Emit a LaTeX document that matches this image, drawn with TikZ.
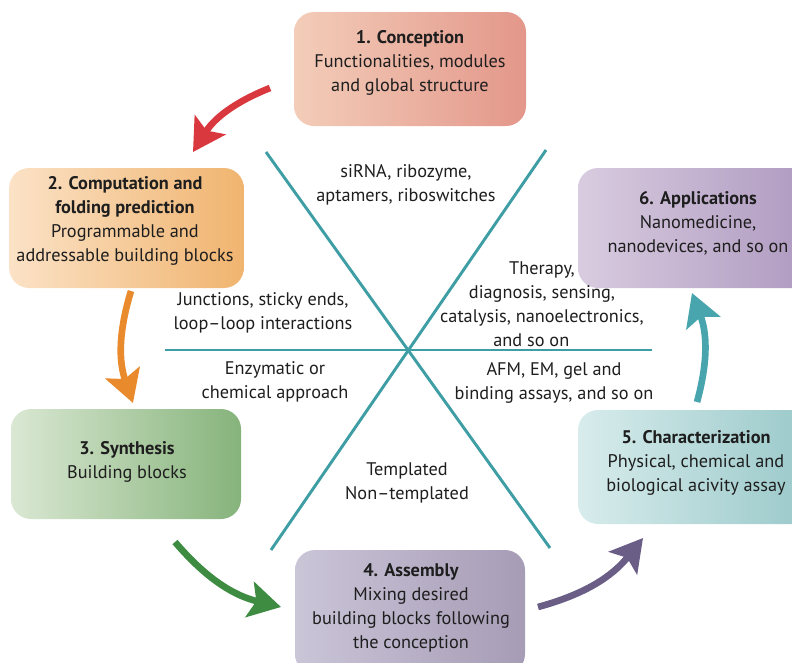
\documentclass[tikz,border=0pt]{standalone}
\usepackage{fontspec}
\setmainfont{PT Sans}
\usetikzlibrary{arrows.meta}

% spokes and text
\definecolor{spokecol}{RGB}{62,158,164}
\definecolor{inkgray}{RGB}{30,30,30}
% arrows round the cycle
\definecolor{arrred}{RGB}{216,56,62}
\definecolor{arrorange}{RGB}{233,139,45}
\definecolor{arrgreen}{RGB}{62,139,66}
\definecolor{arrpurple}{RGB}{106,94,134}
\definecolor{arrteal}{RGB}{72,165,173}

\tikzset{
  stage/.style={rounded corners=15pt, inner sep=0pt},
  stagetext/.style={align=center, text=inkgray, inner sep=0pt},
  spoke/.style={draw=spokecol, line width=2.2pt},
  note/.style={align=center, text=inkgray, inner sep=0pt},
  cycarrow/.style={line width=5pt, -{Stealth[length=24pt,width=27pt,inset=5pt]}, bend right=18},
}

\begin{document}
\begin{tikzpicture}[x=.75pt, y=-.75pt, font=\fontsize{13.7}{18}\selectfont]
  \useasboundingbox (0,0) rectangle (792,662);

  % the six stages, box first and then its text
  \node[stage, left color={rgb,255:red,243;green,205;blue,185}, right color={rgb,255:red,227;green,151;blue,138},
        minimum width=174pt, minimum height=85.5pt] (conc) at (410,69) {};
  \node[stagetext] (conct) at (410,62.5)
       {\textbf{1. Conception}\\Functionalities, modules\\and global structure};
  \node[stage, left color={rgb,255:red,251;green,226;blue,198}, right color={rgb,255:red,240;green,180;blue,111},
        minimum width=176pt, minimum height=90pt] (comp) at (126.5,228) {};
  \node[stagetext] (compt) at (125,221)
       {\textbf{2. Computation and}\\\textbf{folding prediction}\\Programmable and\\addressable building blocks};
  \node[stage, left color={rgb,255:red,218;green,232;blue,211}, right color={rgb,255:red,134;green,179;blue,123},
        minimum width=172.5pt, minimum height=82.5pt] (synt) at (126,464) {};
  \node[stagetext] (syntt) at (127,461.5)
       {\textbf{3. Synthesis}\\Building blocks};
  \node[stage, left color={rgb,255:red,203;green,197;blue,216}, right color={rgb,255:red,166;green,156;blue,182},
        minimum width=172.5pt, minimum height=93pt] (asse) at (410,612) {};
  \node[stagetext] (asset) at (411,607.5)
       {\textbf{4. Assembly}\\Mixing desired\\building blocks following\\the conception};
  \node[stage, left color={rgb,255:red,216;green,236;blue,236}, right color={rgb,255:red,153;green,200;blue,201},
        minimum width=177pt, minimum height=85.5pt] (char) at (696,467) {};
  \node[stagetext] (chart) at (696,463)
       {\textbf{5. Characterization}\\Physical, chemical and\\biological acivity assay};
  \node[stage, left color={rgb,255:red,217;green,204;blue,224}, right color={rgb,255:red,173;green,152;blue,191},
        minimum width=180pt, minimum height=90pt] (appl) at (698,228) {};
  \node[stagetext] (applt) at (698,223)
       {\textbf{6. Applications}\\Nanomedicine,\\nanodevices, and so on};

  % star of spokes
  \coordinate (nw) at (266,152);
  \coordinate (se) at (550,548);
  \coordinate (ne) at (546,150);
  \coordinate (sw) at (271,550);
  \coordinate (w)  at (165,350);
  \coordinate (e)  at (652,350);
  \foreach \a/\b in {nw/se,ne/sw,w/e}
    \draw[spoke] (\a) -- (\b);

  \node[note] (sirna) at (406,185) {siRNA, ribozyme,\\aptamers, riboswitches};
  \node[note] (junc)  at (263,313) {Junctions, sticky ends,\\loop--loop interactions};
  \node[note] (enzy)  at (275,382) {Enzymatic or\\chemical approach};
  \node[note] (ther)  at (542,304) {Therapy,\\diagnosis, sensing,\\catalysis, nanoelectronics,\\\hspace*{-16pt}and so on};
  \node[note] (afm)   at (554,383) {AFM, EM, gel and\\binding assays, and so on};
  \node[note] (templ) at (407,483) {Templated\\Non--templated};

  % arrows between stages
  \coordinate (r0) at (270,88);  \coordinate (r1) at (193,152);
  \coordinate (o0) at (131,291); \coordinate (o1) at (133,403);
  \coordinate (g0) at (175,542); \coordinate (g1) at (281,607);
  \coordinate (p0) at (538,607); \coordinate (p1) at (643,538);
  \coordinate (t0) at (697,402); \coordinate (t1) at (692,293);
  \foreach \s/\t/\c in {r0/r1/arrred,o0/o1/arrorange,g0/g1/arrgreen,p0/p1/arrpurple,t0/t1/arrteal}
    \draw[cycarrow, \c] (\s) to (\t);
\end{tikzpicture}
\end{document}
